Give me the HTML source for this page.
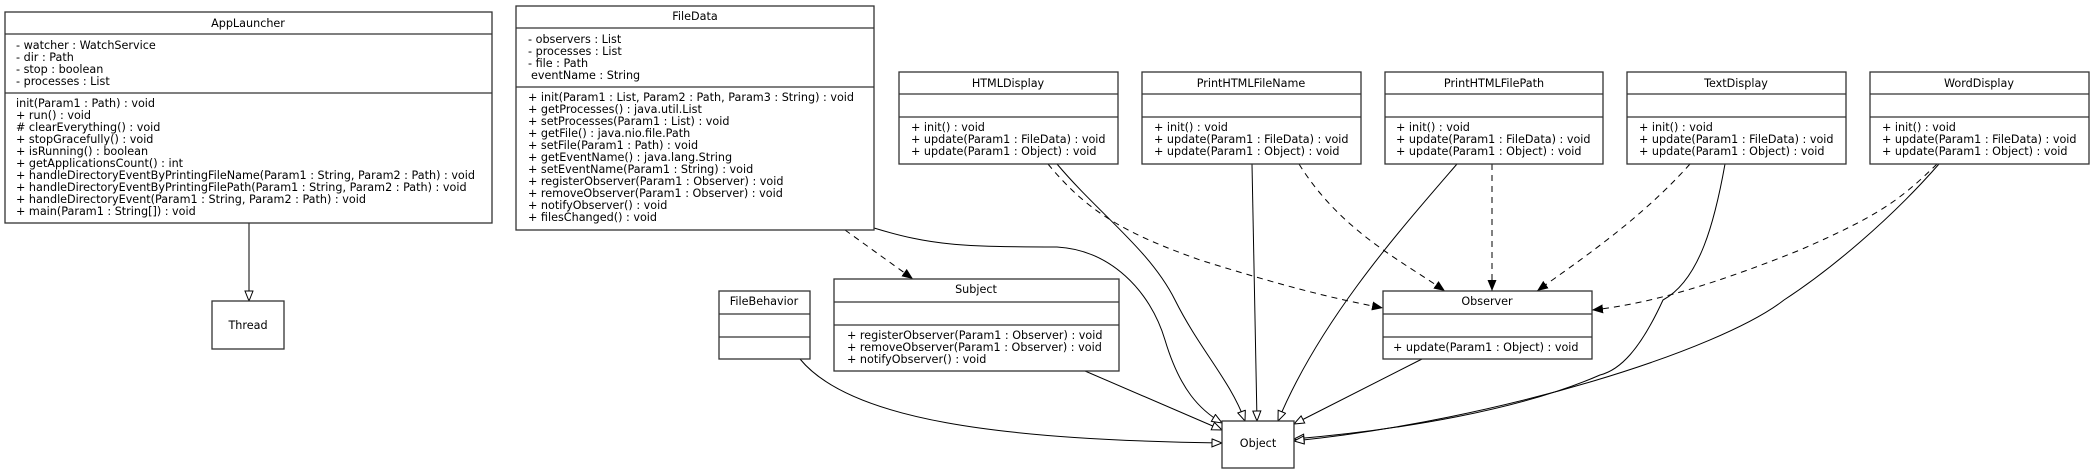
<!DOCTYPE html>
<html><head><meta charset="utf-8"><style>
html,body{margin:0;padding:0;background:#fff;}
svg{display:block;}
text{font-family:"DejaVu Sans","Liberation Sans",sans-serif;font-size:11.2px;fill:#000;}
.b{fill:#fff;stroke:#333;stroke-width:1.3;}
.l{stroke:#333;stroke-width:1.3;}
.e{fill:none;stroke:#000;stroke-width:1;}
.d{fill:none;stroke:#000;stroke-width:1;stroke-dasharray:6,5;}
</style></head><body>
<svg width="2094" height="475" viewBox="0 0 2094 475" xmlns="http://www.w3.org/2000/svg">
<defs>
<marker id="h" markerUnits="userSpaceOnUse" markerWidth="12" markerHeight="10" refX="11" refY="4.5" orient="auto"><path d="M1,0.5 L11,4.5 L1,8.5 Z" fill="#fff" stroke="#000" stroke-width="1"/></marker>
<marker id="f" markerUnits="userSpaceOnUse" markerWidth="12" markerHeight="10" refX="11" refY="4.5" orient="auto"><path d="M0,0 L11,4.5 L0,9 Z" fill="#000"/></marker>
</defs>

<path class="e" d="M249,223 L249,301" marker-end="url(#h)"/>
<path class="d" d="M845,230 L913,279" marker-end="url(#f)"/>
<path class="e" d="M874,228 C930,245 960,247 1057,247 C1110,250 1150,290 1165,340 C1180,390 1200,410 1222,423" marker-end="url(#h)"/>
<path class="e" d="M800,359 C850,420 1000,440 1222,443" marker-end="url(#h)"/>
<path class="e" d="M1085,371 L1222,430" marker-end="url(#h)"/>
<path class="e" d="M1057,164 C1100,215 1150,250 1175,300 C1200,350 1230,380 1245,421" marker-end="url(#h)"/>
<path class="e" d="M1252,164 L1257,421" marker-end="url(#h)"/>
<path class="e" d="M1457,164 C1400,230 1320,320 1278,421" marker-end="url(#h)"/>
<path class="e" d="M1422,359 L1294,424" marker-end="url(#h)"/>
<path class="e" d="M1725,164 C1715,220 1700,280 1663,300 C1640,350 1620,370 1600,375 C1520,410 1400,430 1294,439" marker-end="url(#h)"/>
<path class="e" d="M1939,164 C1890,220 1830,270 1784,300 C1720,350 1500,420 1294,441" marker-end="url(#h)"/>
<path class="d" d="M1048,164 C1090,215 1130,235 1200,260 C1280,285 1330,298 1383,308" marker-end="url(#f)"/>
<path class="d" d="M1299,164 C1340,230 1400,260 1445,291" marker-end="url(#f)"/>
<path class="d" d="M1492,164 L1492,291" marker-end="url(#f)"/>
<path class="d" d="M1690,164 C1640,220 1580,260 1537,291" marker-end="url(#f)"/>
<path class="d" d="M1937,164 C1900,200 1880,215 1800,250 C1700,290 1640,305 1592,310" marker-end="url(#f)"/>

<rect class="b" x="5" y="12" width="487" height="211"/>
<line class="l" x1="5" y1="34" x2="492" y2="34"/><line class="l" x1="5" y1="93" x2="492" y2="93"/>
<text x="248" y="27" text-anchor="middle">AppLauncher</text>
<text x="16" y="49">- watcher : WatchService</text>
<text x="16" y="61">- dir : Path</text>
<text x="16" y="73">- stop : boolean</text>
<text x="16" y="85">- processes : List</text>
<text x="16" y="107">init(Param1 : Path) : void</text>
<text x="16" y="119">+ run() : void</text>
<text x="16" y="131"># clearEverything() : void</text>
<text x="16" y="143">+ stopGracefully() : void</text>
<text x="16" y="155">+ isRunning() : boolean</text>
<text x="16" y="167">+ getApplicationsCount() : int</text>
<text x="16" y="179">+ handleDirectoryEventByPrintingFileName(Param1 : String, Param2 : Path) : void</text>
<text x="16" y="191">+ handleDirectoryEventByPrintingFilePath(Param1 : String, Param2 : Path) : void</text>
<text x="16" y="203">+ handleDirectoryEvent(Param1 : String, Param2 : Path) : void</text>
<text x="16" y="215">+ main(Param1 : String[]) : void</text>

<rect class="b" x="212" y="301" width="72" height="48"/>
<text x="248" y="329" text-anchor="middle">Thread</text>

<rect class="b" x="516" y="6" width="358" height="224"/>
<line class="l" x1="516" y1="28" x2="874" y2="28"/><line class="l" x1="516" y1="87" x2="874" y2="87"/>
<text x="695" y="20" text-anchor="middle">FileData</text>
<text x="528" y="43">- observers : List</text>
<text x="528" y="55">- processes : List</text>
<text x="528" y="67">- file : Path</text>
<text x="531" y="79">eventName : String</text>
<text x="528" y="101">+ init(Param1 : List, Param2 : Path, Param3 : String) : void</text>
<text x="528" y="113">+ getProcesses() : java.util.List</text>
<text x="528" y="125">+ setProcesses(Param1 : List) : void</text>
<text x="528" y="137">+ getFile() : java.nio.file.Path</text>
<text x="528" y="149">+ setFile(Param1 : Path) : void</text>
<text x="528" y="161">+ getEventName() : java.lang.String</text>
<text x="528" y="173">+ setEventName(Param1 : String) : void</text>
<text x="528" y="185">+ registerObserver(Param1 : Observer) : void</text>
<text x="528" y="197">+ removeObserver(Param1 : Observer) : void</text>
<text x="528" y="209">+ notifyObserver() : void</text>
<text x="528" y="221">+ filesChanged() : void</text>

<g>
<rect class="b" x="899" y="72" width="219" height="92"/><line class="l" x1="899" y1="94" x2="1118" y2="94"/><line class="l" x1="899" y1="117" x2="1118" y2="117"/>
<text x="1008" y="87" text-anchor="middle">HTMLDisplay</text>
<text x="911" y="131">+ init() : void</text><text x="911" y="143">+ update(Param1 : FileData) : void</text><text x="911" y="155">+ update(Param1 : Object) : void</text>
</g>
<g>
<rect class="b" x="1142" y="72" width="219" height="92"/><line class="l" x1="1142" y1="94" x2="1361" y2="94"/><line class="l" x1="1142" y1="117" x2="1361" y2="117"/>
<text x="1251" y="87" text-anchor="middle">PrintHTMLFileName</text>
<text x="1154" y="131">+ init() : void</text><text x="1154" y="143">+ update(Param1 : FileData) : void</text><text x="1154" y="155">+ update(Param1 : Object) : void</text>
</g>
<g>
<rect class="b" x="1385" y="72" width="218" height="92"/><line class="l" x1="1385" y1="94" x2="1603" y2="94"/><line class="l" x1="1385" y1="117" x2="1603" y2="117"/>
<text x="1494" y="87" text-anchor="middle">PrintHTMLFilePath</text>
<text x="1396" y="131">+ init() : void</text><text x="1396" y="143">+ update(Param1 : FileData) : void</text><text x="1396" y="155">+ update(Param1 : Object) : void</text>
</g>
<g>
<rect class="b" x="1627" y="72" width="219" height="92"/><line class="l" x1="1627" y1="94" x2="1846" y2="94"/><line class="l" x1="1627" y1="117" x2="1846" y2="117"/>
<text x="1736" y="87" text-anchor="middle">TextDisplay</text>
<text x="1639" y="131">+ init() : void</text><text x="1639" y="143">+ update(Param1 : FileData) : void</text><text x="1639" y="155">+ update(Param1 : Object) : void</text>
</g>
<g>
<rect class="b" x="1870" y="72" width="219" height="92"/><line class="l" x1="1870" y1="94" x2="2089" y2="94"/><line class="l" x1="1870" y1="117" x2="2089" y2="117"/>
<text x="1979" y="87" text-anchor="middle">WordDisplay</text>
<text x="1882" y="131">+ init() : void</text><text x="1882" y="143">+ update(Param1 : FileData) : void</text><text x="1882" y="155">+ update(Param1 : Object) : void</text>
</g>

<rect class="b" x="719" y="291" width="91" height="68"/><line class="l" x1="719" y1="314" x2="810" y2="314"/><line class="l" x1="719" y1="337" x2="810" y2="337"/>
<text x="764" y="305" text-anchor="middle">FileBehavior</text>

<rect class="b" x="834" y="279" width="285" height="92"/><line class="l" x1="834" y1="302" x2="1119" y2="302"/><line class="l" x1="834" y1="325" x2="1119" y2="325"/>
<text x="976" y="293" text-anchor="middle">Subject</text>
<text x="847" y="339">+ registerObserver(Param1 : Observer) : void</text>
<text x="847" y="351">+ removeObserver(Param1 : Observer) : void</text>
<text x="847" y="363">+ notifyObserver() : void</text>

<rect class="b" x="1383" y="291" width="209" height="68"/><line class="l" x1="1383" y1="314" x2="1592" y2="314"/><line class="l" x1="1383" y1="337" x2="1592" y2="337"/>
<text x="1487" y="305" text-anchor="middle">Observer</text>
<text x="1393" y="351">+ update(Param1 : Object) : void</text>

<rect class="b" x="1222" y="421" width="72" height="47"/>
<text x="1258" y="447" text-anchor="middle">Object</text>
</svg>
</body></html>
